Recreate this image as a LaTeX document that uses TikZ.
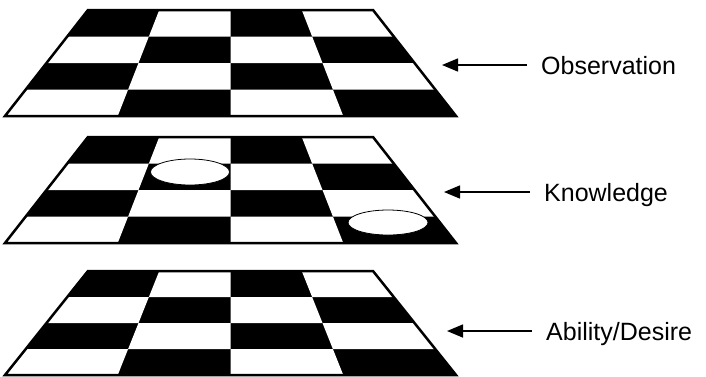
\documentclass[tikz,border=0pt]{standalone}
\usepackage{fontspec}
\setmainfont{Liberation Sans}
\usetikzlibrary{arrows.meta}

\begin{document}
\begin{tikzpicture}[x=1pt, y=-1pt,
    declare function={bx(\u,\v)=88-83*\v+\u*(285+166*\v);},
    layername/.style={anchor=west, inner xsep=14pt, inner ysep=0pt, text height=18pt, text depth=0pt, font=\fontsize{25}{30}\selectfont},
    pointer/.style={-{Triangle[length=16pt,width=13pt]}, line width=1.5pt},
    piece/.style={fill=white, draw=black, line width=0.8pt}]
    \useasboundingbox (0,0) rectangle (706,376);
    % boards
    \foreach \ya/\yb in {10/116, 137/243, 271/375} {
        \fill (88,\ya) -- (373,\ya) -- (456,\yb) -- (5,\yb) -- cycle;
        \foreach \r in {0,...,3} {
            \foreach \c in {0,...,3} {
                \pgfmathtruncatemacro\odd{mod(\r+\c,2)}
                \ifnum\odd=1
                    \pgfmathsetmacro\yA{\ya+\r*(\yb-\ya)/4}
                    \pgfmathsetmacro\yB{\ya+(\r+1)*(\yb-\ya)/4}
                    \fill[white] ({bx(\c/4,\r/4)},\yA) -- ({bx((\c+1)/4,\r/4)},\yA) -- ({bx((\c+1)/4,(\r+1)/4)},\yB) -- ({bx(\c/4,(\r+1)/4)},\yB) -- cycle;
                \fi
            }
        }
        \draw[line width=2.5pt, line join=miter] (88,\ya) -- (373,\ya) -- (456,\yb) -- (5,\yb) -- cycle;
    }
    % pieces
    \fill (190,174.5) ellipse [x radius=39.5pt, y radius=13pt];
    \draw[piece] (190,172) ellipse [x radius=39.5pt, y radius=13pt];
    \fill (388,225) ellipse [x radius=40pt, y radius=12.5pt];
    \draw[piece] (388,222.5) ellipse [x radius=40pt, y radius=12.5pt];
    % labels
    \coordinate (obsTip) at (442,65);
    \coordinate (knowTip) at (444,192);
    \coordinate (ablTip) at (447,331);
    \node[layername] (obs) at (527,65) {Observation};
    \node[layername] (know) at (530,192) {Knowledge};
    \node[layername] (abl) at (532,331) {Ability/Desire};
    \draw[pointer] (obs.west) -- (obsTip);
    \draw[pointer] (know.west) -- (knowTip);
    \draw[pointer] (abl.west) -- (ablTip);
\end{tikzpicture}
\end{document}
